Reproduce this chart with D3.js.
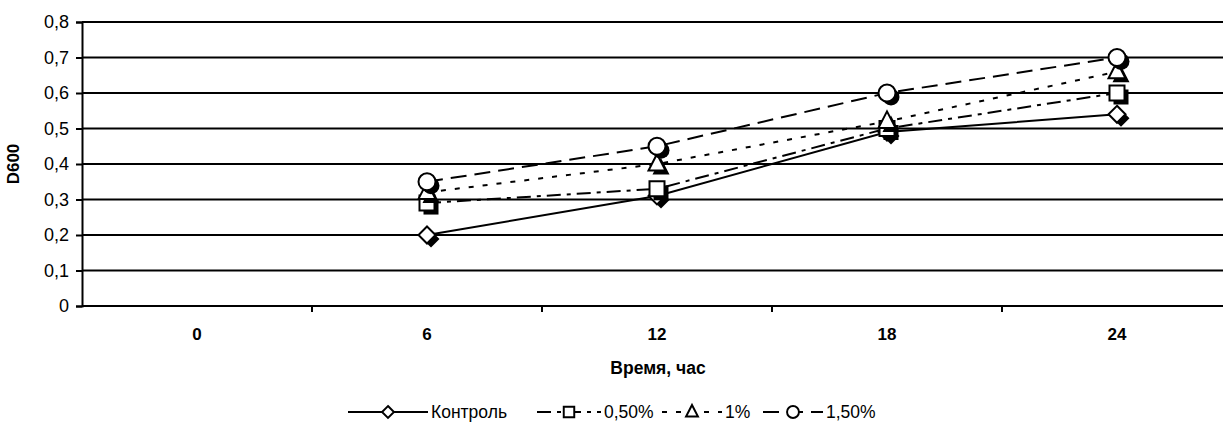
<!DOCTYPE html>
<html><head><meta charset="utf-8">
<script src="https://cdn.jsdelivr.net/npm/d3@7"></script>
<style>body{margin:0;background:#fff}svg{display:block;font-family:"Liberation Sans",Arial,sans-serif}</style>
</head><body>
<svg id="c" width="1223" height="428"></svg>
<script>
const categories = ["0","6","12","18","24"];
const yTicks = [0,0.1,0.2,0.3,0.4,0.5,0.6,0.7,0.8];
const seriesNames = ["Контроль","0,50%","1%","1,50%"];
const kontrol = [null,0.20,0.31,0.49,0.54];
const p050 = [null,0.29,0.33,0.50,0.60];
const p100 = [null,0.32,0.40,0.52,0.66];
const p150 = [null,0.35,0.45,0.60,0.70];
const seriesValues = [kontrol,p050,p100,p150];
const dashes = [null,"14,6,4,6","5,9","16,8"];
const markers = ["diamond","square","triangle","circle"];

const svg = d3.select("#c");
const L = 82, R = 1232, T = 22, B = 306;
const FF = "Liberation Sans, Arial, sans-serif";
const x = d3.scaleBand().domain(categories).range([L,R]);
const y = d3.scaleLinear().domain([0,0.8]).range([B,T]);

svg.append("g").selectAll("line").data(yTicks.filter(d=>d>0)).join("line")
  .attr("x1",L).attr("x2",R).attr("y1",d=>y(d)).attr("y2",d=>y(d))
  .attr("stroke","#000").attr("stroke-width",2);

const yAxis = svg.append("g").attr("transform",`translate(${L},0)`)
  .call(d3.axisLeft(y).tickValues(yTicks).tickSize(6).tickPadding(7)
    .tickFormat(d=>d===0?"0":d3.format(".1f")(d).replace(".",",")));
yAxis.select(".domain").attr("stroke-width",2);
yAxis.selectAll(".tick line").attr("stroke-width",2);
yAxis.selectAll("text").attr("font-size",18).attr("fill","#000").attr("font-family",FF);

const xAxis = svg.append("g").attr("transform",`translate(0,${B})`)
  .call(d3.axisBottom(x).tickSize(0).tickPadding(22));
xAxis.select(".domain").attr("stroke-width",2).attr("d",`M${L},0H${R}`);
xAxis.selectAll("text").attr("font-size",17).attr("font-weight","bold").attr("fill","#000").attr("font-family",FF);
svg.append("g").selectAll("line").data(categories.slice(1)).join("line")
  .attr("x1",d=>x(d)).attr("x2",d=>x(d)).attr("y1",B).attr("y2",B+6)
  .attr("stroke","#000").attr("stroke-width",2);

svg.append("text").attr("transform",`translate(19,${(T+B)/2}) rotate(-90)`)
  .attr("text-anchor","middle").attr("font-size",17).attr("font-weight","bold").text("D600");
svg.append("text").attr("x",658).attr("y",374).attr("text-anchor","middle")
  .attr("font-size",17.5).attr("font-weight","bold").text("Время, час");

function markerPath(type){
  if(type==="diamond") return "M0,-8.5L8.5,0L0,8.5L-8.5,0Z";
  if(type==="square") return "M-7.5,-7.5H7.5V7.5H-7.5Z";
  if(type==="triangle") return "M0,-10L8.5,6.5H-8.5Z";
  return d3.arc()({innerRadius:0,outerRadius:8.5,startAngle:0,endAngle:2*Math.PI});
}

const cx = c => x(c)+x.bandwidth()/2;
const line = d3.line().defined(d=>d.v!=null).x(d=>cx(d.c)).y(d=>y(d.v));

seriesValues.forEach((vals,i)=>{
  const pts = categories.map((c,j)=>({c,v:vals[j]}));
  svg.append("path").datum(pts).attr("d",line).attr("fill","none")
    .attr("stroke","#000").attr("stroke-width",2)
    .attr("stroke-dasharray",dashes[i]);
});
seriesValues.forEach((vals,i)=>{
  const pts = categories.map((c,j)=>({c,v:vals[j]})).filter(d=>d.v!=null);
  const g = svg.append("g");
  g.selectAll("path.sh").data(pts).join("path").attr("class","sh")
    .attr("d",markerPath(markers[i]))
    .attr("transform",d=>`translate(${cx(d.c)+4},${y(d.v)+4})`).attr("fill","#000");
  g.selectAll("path.mk").data(pts).join("path").attr("class","mk")
    .attr("d",markerPath(markers[i]))
    .attr("transform",d=>`translate(${cx(d.c)},${y(d.v)})`)
    .attr("fill","#fff").attr("stroke","#000").attr("stroke-width",2);
});

const legX = [348,537,662,763];
const legLen = [80,64,60,60];
const lg = svg.append("g");
seriesNames.forEach((n,i)=>{
  const x0 = legX[i], yy = 412, len = legLen[i];
  lg.append("line").attr("x1",x0).attr("x2",x0+len).attr("y1",yy).attr("y2",yy)
    .attr("stroke","#000").attr("stroke-width",2).attr("stroke-dasharray",dashes[i]);
  lg.append("path").attr("d",markerPath(markers[i])).attr("transform",`translate(${x0+len/2},${yy}) scale(0.7)`)
    .attr("fill","#fff").attr("stroke","#000").attr("stroke-width",2.8);
  lg.append("text").attr("x",x0+len+3).attr("y",yy+6).attr("font-size",17.5).text(n);
});
</script>
</body></html>
